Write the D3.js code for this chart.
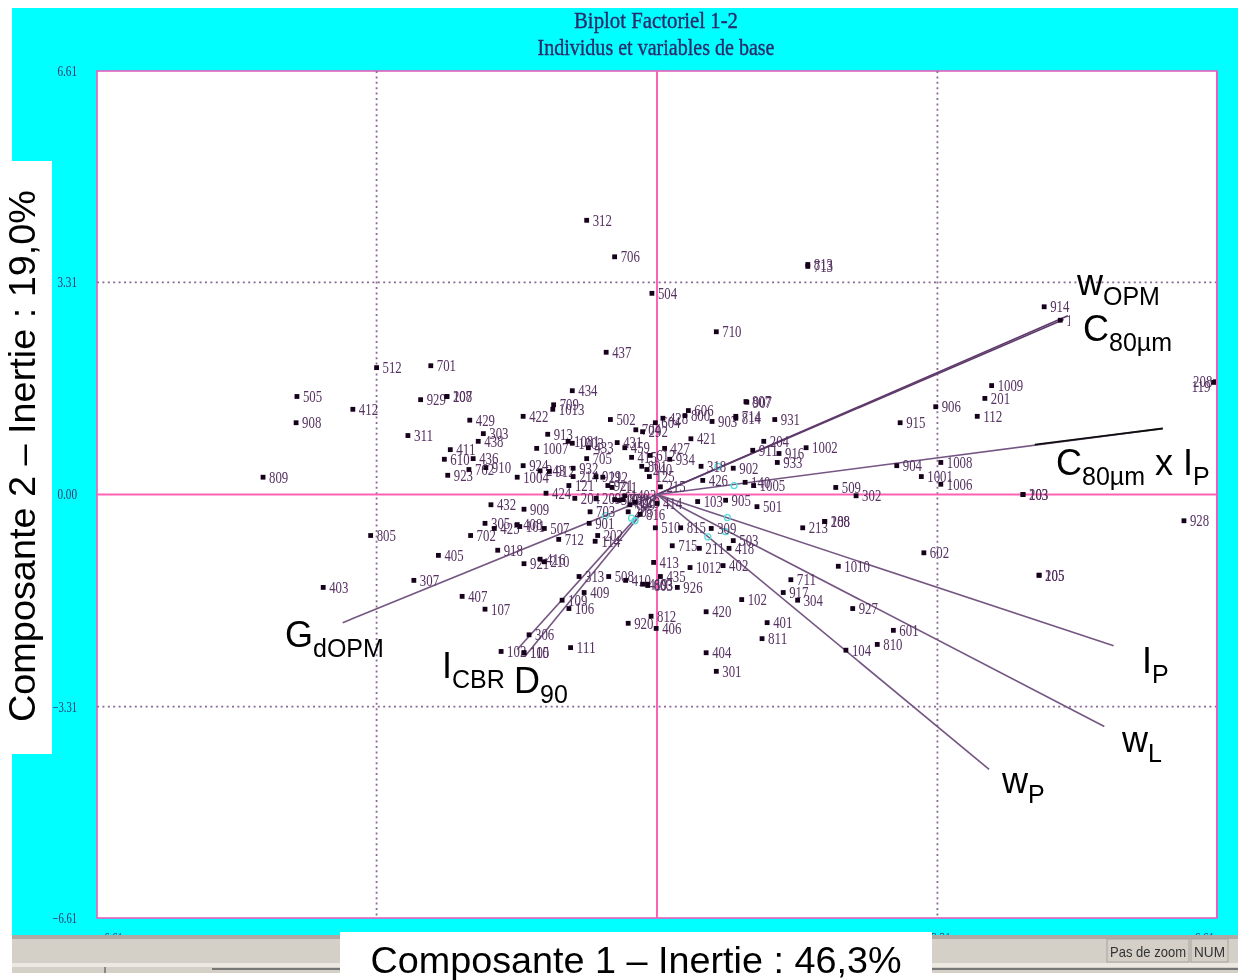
<!DOCTYPE html>
<html><head><meta charset="utf-8">
<script src="https://cdn.jsdelivr.net/npm/d3@7/dist/d3.min.js"></script>
<style>html,body{margin:0;padding:0;background:#fff;overflow:hidden}svg{display:block}</style>
</head><body><svg id="c" width="1238" height="980"></svg>
<script>
const titleLines = ["Biplot Factoriel 1-2", "Individus et variables de base"];
const axisLabelX = "Composante 1 – Inertie : 46,3%";
const axisLabelY = "Composante 2 – Inertie : 19,0%";
const tickValues = [-6.61, -3.31, 0, 3.31, 6.61];

const pointLabels = ["312","706","504","710","437","813","713","914","116","512","701","505","412","908","929","207","108","429","303","438",
"311","411","610","436","762","910","923","809","805","403","307","405","407","107","702","305","425","408","101","432",
"909","424","1004","924","243","912","422","913","1007","709","1013","434","1081","1003","433","705","932","214","121","204",
"209","919","212","921","711","703","901","1403","507","1011","808","609","205","219","816","502","431","459","415","704",
"292","604","428","606","800","903","714","814","807","907","931","421","427","934","612","801","240","125","215","318",
"902","426","140","1005","103","905","501","414","510","815","309","503","418","715","211","413","435","1012","402","204",
"911","916","933","1002","213","208","188","712","507","918","921","416","210","313","508","410","419","603","803","409",
"109","106","306","812","920","406","111","102","105","110","114","202","926","420","404","301","102","401","811","711",
"917","304","927","1010","602","601","810","104","509","302","1006","915","906","1009","201","112","904","1008","1001","203",
"103","205","105","928","208","119"];
const pointX = [-0.83,-0.50,-0.06,0.70,-0.60,1.78,1.78,4.57,4.76,-3.31,-2.67,-4.25,-3.59,-4.26,-2.79,-2.48,-2.48,-2.21,-2.05,-2.11,
-2.94,-2.44,-2.51,-2.17,-2.22,-2.02,-2.47,-4.65,-3.38,-3.94,-2.87,-2.58,-2.30,-2.03,-2.20,-2.03,-1.92,-1.65,-1.62,-1.96,
-1.57,-1.31,-1.65,-1.58,-1.38,-1.27,-1.58,-1.29,-1.42,-1.22,-1.23,-1.00,-1.05,-1.00,-0.81,-0.83,-0.99,-0.99,-1.04,-0.97,
-0.72,-0.72,-0.64,-0.58,-0.53,-0.79,-0.80,-0.38,-0.50,-0.45,-0.40,-0.32,-0.34,-0.26,-0.20,-0.55,-0.47,-0.38,-0.30,-0.25,
-0.17,-0.02,0.07,0.37,0.33,0.65,0.93,0.93,1.05,1.06,1.39,0.40,0.09,0.15,-0.08,-0.18,-0.12,-0.09,0.04,0.52,
0.90,0.54,1.04,1.14,0.48,0.81,1.18,0.00,-0.02,0.28,0.64,0.90,0.85,0.18,0.50,-0.04,0.04,0.39,0.78,1.26,
1.13,1.44,1.42,1.76,1.72,1.98,1.98,-1.16,-1.33,-1.88,-1.57,-1.38,-1.33,-0.92,-0.57,-0.37,-0.17,-0.11,-0.11,-0.86,
-1.12,-1.04,-1.51,-0.07,-0.34,-0.01,-1.02,-1.84,-1.57,-1.57,-0.73,-0.70,0.24,0.58,0.58,0.70,1.00,1.30,1.24,1.58,
1.49,1.66,2.31,2.14,3.15,2.79,2.60,2.23,2.11,2.35,3.35,2.87,3.29,3.95,3.87,3.78,2.83,3.35,3.12,4.32,
4.32,4.51,4.51,6.22,6.59,6.57];
const pointY = [4.28,3.71,3.14,2.54,2.22,3.59,3.56,2.93,2.72,1.98,2.01,1.53,1.33,1.12,1.48,1.53,1.53,1.16,0.95,0.83,
0.92,0.70,0.55,0.56,0.39,0.42,0.30,0.27,-0.64,-1.45,-1.34,-0.95,-1.59,-1.79,-0.64,-0.45,-0.53,-0.47,-0.50,-0.16,
-0.23,0.02,0.27,0.45,0.37,0.36,1.22,0.94,0.72,1.40,1.33,1.62,0.83,0.80,0.73,0.56,0.41,0.28,0.14,-0.06,
-0.06,0.28,0.27,0.14,0.11,-0.27,-0.45,-0.02,-0.08,-0.09,-0.08,-0.16,-0.27,-0.12,-0.31,1.17,0.81,0.73,0.58,1.01,
0.98,1.12,1.19,1.31,1.23,1.14,1.22,1.19,1.45,1.44,1.17,0.87,0.72,0.55,0.61,0.44,0.39,0.28,0.12,0.44,
0.41,0.22,0.19,0.14,-0.11,-0.09,-0.19,-0.14,-0.52,-0.52,-0.53,-0.72,-0.84,-0.80,-0.84,-1.06,-1.28,-1.14,-1.11,0.83,
0.69,0.64,0.50,0.73,-0.52,-0.42,-0.42,-0.70,-0.53,-0.87,-1.08,-1.01,-1.05,-1.28,-1.28,-1.34,-1.40,-1.40,-1.42,-1.53,
-1.65,-1.78,-2.19,-1.90,-2.01,-2.09,-2.39,-2.45,-2.47,-2.47,-0.73,-0.64,-1.45,-1.83,-2.47,-2.76,-1.64,-2.00,-2.25,-1.33,
-1.53,-1.65,-1.78,-1.12,-0.91,-2.12,-2.34,-2.43,0.11,-0.02,0.16,1.12,1.37,1.70,1.50,1.22,0.45,0.50,0.28,0.00,
0.00,-1.26,-1.26,-0.41,1.76,1.75];

const variableNames = ["wOPM","C80","C80xIP","IP","wL","wP","GdOPM","ICBR","D90"];
const variableX = [4.85,4.80,5.97,5.39,5.28,3.92,-3.71,-1.65,-1.56];
const variableY = [2.79,2.73,1.03,-2.36,-3.62,-4.29,-2.00,-2.42,-2.53];
const darkSegmentX = [4.46,5.97];
const darkSegmentY = [0.78,1.03];
const ringX = [0.72,0.91,0.83,0.60,0.81,-0.61,-0.26,-0.30];
const ringY = [0.44,0.14,-0.36,-0.66,-0.58,-0.33,-0.41,-0.37];

const svg = d3.select("#c");
const defs = svg.append("defs");
defs.append("filter").attr("id","soft").append("feGaussianBlur").attr("stdDeviation",0.5);
const x = d3.scaleLinear().domain([-6.61,6.61]).range([97,1217]);
const y = d3.scaleLinear().domain([-6.61,6.61]).range([918,71]);

svg.append("rect").attr("x",12).attr("y",8).attr("width",1226).attr("height",928).attr("fill","#00ffff");

const root = svg.append("g").attr("filter","url(#soft)");
const serif = "'Liberation Serif','Times New Roman',serif";
const sans = "'Liberation Sans',Arial,sans-serif";

root.selectAll("text.title").data(titleLines).join("text").attr("class","title")
  .attr("x",656).attr("y",(d,i)=>28+i*26.5).attr("text-anchor","middle")
  .attr("font-family",serif).attr("font-size",23).attr("fill","#2b2a6a").attr("stroke","#2b2a6a").attr("stroke-width",0.35)
  .attr("textLength",(d,i)=>i?237:164).attr("lengthAdjust","spacingAndGlyphs").text(d=>d);

root.append("rect").attr("x",x(-6.61)).attr("y",y(6.61)).attr("width",x(6.61)-x(-6.61)).attr("height",y(-6.61)-y(6.61))
  .attr("fill","#fff").attr("stroke","#e860bc").attr("stroke-width",1.6);

const gridVals = [-3.31,3.31];
root.selectAll("line.gv").data(gridVals).join("line").attr("class","gv")
  .attr("x1",d=>x(d)).attr("x2",d=>x(d)).attr("y1",y(6.61)).attr("y2",y(-6.61))
  .attr("stroke","#8a6a94").attr("stroke-width",1.8).attr("stroke-dasharray","2,3.4");
root.selectAll("line.gh").data(gridVals).join("line").attr("class","gh")
  .attr("y1",d=>y(d)).attr("y2",d=>y(d)).attr("x1",x(-6.61)).attr("x2",x(6.61))
  .attr("stroke","#8a6a94").attr("stroke-width",1.8).attr("stroke-dasharray","2,3.4");
root.append("line").attr("x1",x(0)).attr("x2",x(0)).attr("y1",y(6.61)).attr("y2",y(-6.61)).attr("stroke","#ff62b4").attr("stroke-width",2);
root.append("line").attr("y1",y(0)).attr("y2",y(0)).attr("x1",x(-6.61)).attr("x2",x(6.61)).attr("stroke","#ff62b4").attr("stroke-width",2);

const fmt = d3.format(".2f");
const yAxis = root.append("g").attr("transform","translate(77,0)")
  .call(d3.axisLeft(y).tickValues(tickValues).tickSize(0).tickPadding(0).tickFormat(fmt));
const xAxis = root.append("g").attr("transform","translate(0,933)")
  .call(d3.axisBottom(x).tickValues(tickValues).tickSize(0).tickPadding(0).tickFormat(fmt));
[yAxis,xAxis].forEach(a=>{
  a.select(".domain").remove();
  a.selectAll("text").attr("font-family",serif).attr("font-size",14).attr("fill","#33336e")
    .attr("textLength",function(){return this.textContent.length*4.9;}).attr("lengthAdjust","spacingAndGlyphs");
});
xAxis.selectAll("text").attr("x",d=>d<-5?13:(d>5?-13:3));

const vars = variableNames.map((n,i)=>({n,x:variableX[i],y:variableY[i]}));
root.selectAll("line.var").data(vars).join("line").attr("class","var")
  .attr("x1",x(0)).attr("y1",y(0)).attr("x2",d=>x(d.x)).attr("y2",d=>y(d.y))
  .attr("stroke",d=>d.n==="wOPM"||d.n==="C80"?"#5e3a6c":"#755682").attr("stroke-width",1.6);
root.append("line").attr("x1",x(darkSegmentX[0])).attr("y1",y(darkSegmentY[0]))
  .attr("x2",x(darkSegmentX[1])).attr("y2",y(darkSegmentY[1])).attr("stroke","#111").attr("stroke-width",1.8);
root.selectAll("circle.ring").data(ringX.map((v,i)=>({x:v,y:ringY[i]}))).join("circle").attr("class","ring")
  .attr("cx",d=>x(d.x)).attr("cy",d=>y(d.y)).attr("r",3).attr("fill","none").attr("stroke","#55dcdc").attr("stroke-width",1.3);

const pts = pointLabels.map((l,i)=>({l,x:pointX[i],y:pointY[i]}));
const edgeFlip = 6.5;
root.selectAll("text.pl").data(pts).join("text").attr("class","pl")
  .attr("x",d=>d.x>edgeFlip?x(d.x)-3:x(d.x)+6).attr("y",d=>y(d.y)+(d.l==="119"?4:0)).attr("dy","0.35em")
  .attr("text-anchor",d=>d.x>edgeFlip?"end":"start")
  .attr("font-family",serif).attr("font-size",16).attr("fill","#553060")
  .attr("textLength",d=>d.l.length*6.4).attr("lengthAdjust","spacingAndGlyphs").text(d=>d.l);
root.selectAll("rect.pt").data(pts).join("rect").attr("class","pt")
  .attr("x",d=>x(d.x)-2.4).attr("y",d=>y(d.y)-2.4).attr("width",4.8).attr("height",4.8).attr("fill","#14001a");
root.append("rect").attr("x",x(6.61)-1).attr("y",y(6.61)).attr("width",2).attr("height",y(-6.61)-y(6.61)).attr("fill","#e860bc");
svg.append("rect").attr("x",1218).attr("y",71).attr("width",20).attr("height",848).attr("fill","#00ffff");

const bar = svg.append("g").attr("filter","url(#soft)");
bar.append("rect").attr("x",12).attr("y",935).attr("width",1226).attr("height",4).attr("fill","#aeaaa3");
bar.append("rect").attr("x",12).attr("y",939).attr("width",1226).attr("height",24).attr("fill","#d4d0c8");
bar.append("rect").attr("x",12).attr("y",963).attr("width",1226).attr("height",4).attr("fill","#ece9e2");
bar.append("rect").attr("x",12).attr("y",967).attr("width",1226).attr("height",6).attr("fill","#d4d0c8");
bar.append("rect").attr("x",212).attr("y",968).attr("width",1026).attr("height",2).attr("fill","#777");
bar.append("rect").attr("x",104).attr("y",967).attr("width",2).attr("height",6).attr("fill","#888");
const panels = [{t:"Pas de zoom",x:1107,w:82},{t:"NUM",x:1191,w:37}];
bar.selectAll("rect.pn").data(panels).join("rect").attr("class","pn").attr("x",d=>d.x).attr("y",939).attr("width",d=>d.w).attr("height",23)
  .attr("fill","none").attr("stroke","#a8a49c");
bar.selectAll("text.pn").data(panels).join("text").attr("class","pn").attr("x",d=>d.x+d.w/2).attr("y",957).attr("text-anchor","middle")
  .attr("font-family",sans).attr("font-size",15).attr("fill","#333")
  .attr("textLength",d=>d.w-6).attr("lengthAdjust","spacingAndGlyphs").text(d=>d.t);

svg.append("rect").attr("x",12).attr("y",161).attr("width",40).attr("height",593).attr("fill","#fff");
svg.append("rect").attr("x",340).attr("y",932).attr("width",592).attr("height",48).attr("fill","#fff");
svg.append("rect").attr("x",1070).attr("y",311).attr("width",108).attr("height",44).attr("fill","#fff");

svg.append("text").attr("x",636).attr("y",973).attr("text-anchor","middle").attr("font-family",sans).attr("font-size",37).attr("fill","#000")
  .attr("textLength",531).attr("lengthAdjust","spacingAndGlyphs").text(axisLabelX);
svg.append("text").attr("transform","translate(35,456) rotate(-90)").attr("text-anchor","middle").attr("font-family",sans).attr("font-size",37).attr("fill","#000")
  .attr("textLength",532).attr("lengthAdjust","spacingAndGlyphs").text(axisLabelY);

const nameParts = [
  {v:"wOPM",parts:["w","OPM"],px:1077,py:295},
  {v:"C80",parts:["C","80µm"],px:1083,py:341},
  {v:"C80xIP",parts:["C","80µm"," x I","P"],px:1056,py:475},
  {v:"IP",parts:["I","P"],px:1142,py:673},
  {v:"wL",parts:["w","L"],px:1122,py:752},
  {v:"wP",parts:["w","P"],px:1002,py:793},
  {v:"GdOPM",parts:["G","dOPM"],px:285,py:647},
  {v:"ICBR",parts:["I","CBR"],px:442,py:678},
  {v:"D90",parts:["D","90"],px:514,py:693}
];
nameParts.forEach(n=>{
  const t = svg.append("text").attr("x",n.px).attr("y",n.py).attr("font-family",sans).attr("fill","#000").attr("xml:space","preserve");
  n.parts.forEach((p,i)=>{
    const sub = i%2===1 && p!==" x I";
    const prevSub = i>0 && i%2===0;
    t.append("tspan").attr("font-size",sub?25:36)
      .attr("dy",sub?10:(prevSub?-10:0)).text(p);
  });
});
</script></body></html>
